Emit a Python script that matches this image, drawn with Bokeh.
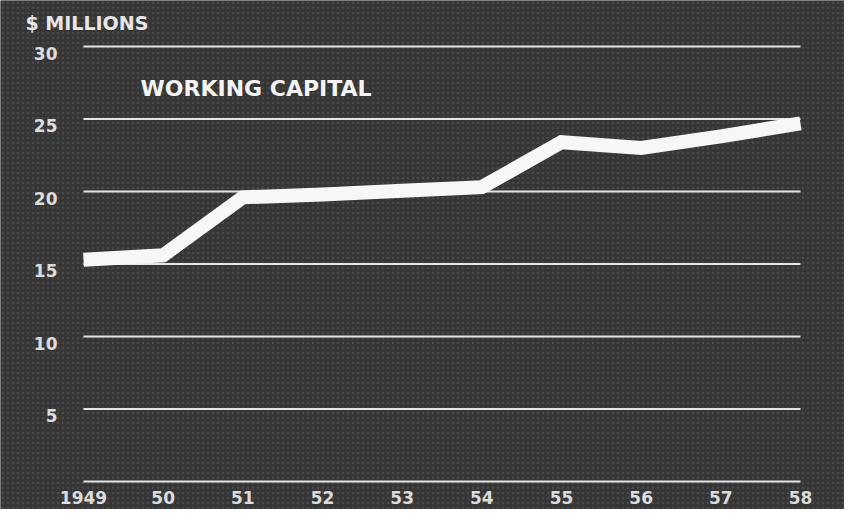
from bokeh.plotting import figure
from bokeh.models import Range1d
from bokeh.core.properties import value
from bokeh.embed import file_html
from bokeh.resources import INLINE

# ---- data ----
years = [1949, 1950, 1951, 1952, 1953, 1954, 1955, 1956, 1957, 1958]
year_labels = ["1949", "50", "51", "52", "53", "54", "55", "56", "57", "58"]
working_capital = [15.3, 15.6, 19.6, 19.8, 20.05, 20.3, 23.4, 23.0, 23.8, 24.7]
grid_values = [0, 5, 10, 15, 20, 25, 30]
tick_values = [5, 10, 15, 20, 25, 30]
tick_labels = ["5", "10", "15", "20", "25", "30"]
unit_label = "$ MILLIONS"
title = "WORKING CAPITAL"

# ---- layout (pixels inside the figure) ----
W, H = 844, 509
left_px, right_px = 83, 800          # where first / last year sit
top_px, zero_px = 46, 481            # where 30 / 0 sit (from top)
ppx = (right_px - left_px) / (years[-1] - years[0])
ppy = (zero_px - top_px) / (grid_values[-1] - grid_values[0])
x0 = years[0] - left_px / ppx
x1 = years[-1] + (W - right_px) / ppx
y0 = grid_values[0] - (H - zero_px) / ppy
y1 = grid_values[-1] + top_px / ppy

BG = "#363636"
FONT = value("DejaVu Sans")

p = figure(width=W, height=H, x_range=Range1d(x0, x1), y_range=Range1d(y0, y1),
           output_backend="svg", toolbar_location=None,
           min_border=0, min_border_left=0, min_border_right=0,
           min_border_top=0, min_border_bottom=0)
p.axis.visible = False
p.grid.visible = False
p.outline_line_color = None
p.background_fill_color = BG
p.border_fill_color = BG

# halftone-like texture
p.quad(left=x0, right=x1, bottom=y0, top=y1, fill_color=BG, line_color=None,
       hatch_pattern="dot", hatch_color="#5a5a5a", hatch_alpha=0.55, hatch_scale=5)

# gridlines
p.segment(x0=years[0], x1=years[-1], y0=grid_values, y1=grid_values,
          line_color="#e4e4e4", line_width=2)

# y tick labels
p.text(x=years[0] - 26 / ppx, y=tick_values, text=tick_labels, text_font=FONT,
       text_font_style="bold", text_font_size="17px", text_color="#dcdcdc",
       text_align="right", text_baseline="top", y_offset=0)

# x labels
p.text(x=years, y=grid_values[0], text=year_labels, text_font=FONT,
       text_font_style="bold", text_font_size="17px", text_color="#dcdcdc",
       text_align="center", text_baseline="middle", y_offset=16)

# unit label and title
p.text(x=[x0 + 25 / ppx], y=[y1 - 22 / ppy], text=[unit_label], text_font=FONT,
       text_font_style="bold", text_font_size="19px", text_color="#e6e6e6",
       text_align="left", text_baseline="middle")
p.text(x=[x0 + 140 / ppx], y=[y1 - 88 / ppy], text=[title], text_font=FONT,
       text_font_style="bold", text_font_size="22px", text_color="#f4f4f4",
       text_align="left", text_baseline="middle")

# data line
p.line(years, working_capital, line_color="#f7f7f7", line_width=14,
       line_join="miter", line_cap="butt")

open("out.html", "w").write(file_html(p, INLINE))
